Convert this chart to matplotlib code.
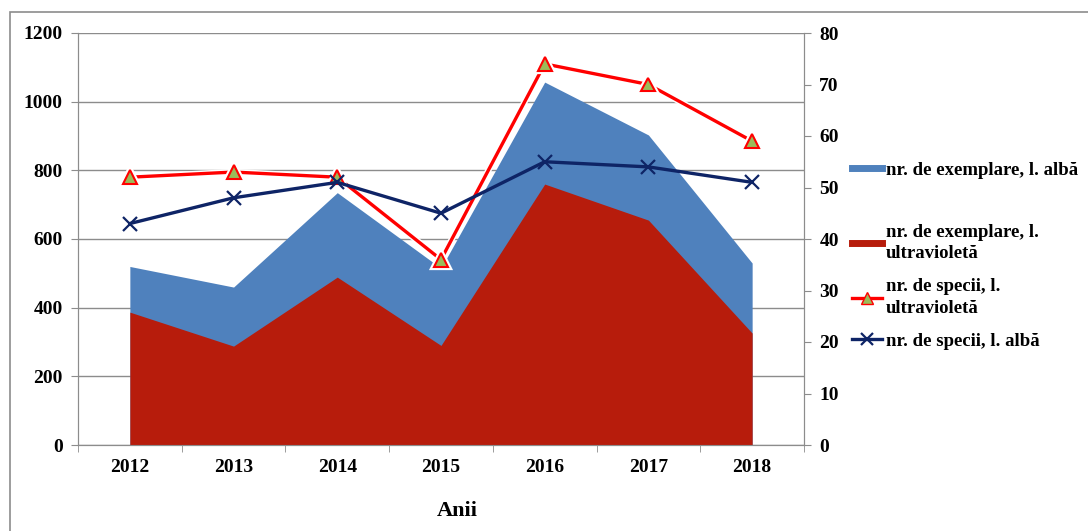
import numpy as np
import matplotlib.pyplot as plt
import matplotlib.patheffects as pe
from matplotlib.lines import Line2D
from matplotlib.patches import Rectangle

plt.rcParams['font.family'] = ['Liberation Serif', 'DejaVu Serif']
plt.rcParams['font.weight'] = 'bold'

years = ['2012', '2013', '2014', '2015', '2016', '2017', '2018']
ex_alba = [520, 460, 735, 515, 1057, 903, 530]
ex_uv = [387, 288, 489, 290, 760, 655, 326]
sp_uv = [52, 53, 52, 36, 74, 70, 59]
sp_alba = [43, 48, 51, 45, 55, 54, 51]

lbl_ex_alba = 'nr. de exemplare, l. albă'
lbl_ex_uv = 'nr. de exemplare, l.\nultravioletă'
lbl_sp_uv = 'nr. de specii, l.\nultravioletă'
lbl_sp_alba = 'nr. de specii, l. albă'

c_blue = '#4F81BD'
c_red = '#B71C0C'
c_line_red = '#FF0000'
c_navy = '#0E2466'
c_grid = '#8C8C8C'

fig = plt.figure(figsize=(10.88, 5.31), dpi=100)
ax = fig.add_axes([78/1088, 1 - 445/531, 726/1088, 412/531])
ax2 = ax.twinx()

x = np.arange(len(years))
ax.fill_between(x, ex_alba, color=c_blue, linewidth=0, zorder=2)
ax.fill_between(x, ex_uv, color=c_red, linewidth=0, zorder=3)

ax2.plot(x, sp_uv, color=c_line_red, lw=2.4, marker='^', ms=10,
         mfc='#9BBB59', mec=c_line_red, mew=1.5, zorder=3,
         path_effects=[pe.Stroke(linewidth=4.5, foreground='white'), pe.Normal()])
ax2.plot(x, sp_alba, color=c_navy, lw=2.4, marker='x', ms=10, mew=1.6, zorder=4)

ax.set_xlim(-0.5, 6.5)
ax.set_ylim(0, 1200)
ax2.set_ylim(0, 80)
ax.set_yticks(np.arange(0, 1201, 200))
ax2.set_yticks(np.arange(0, 81, 10))
ax.set_xticks(x)
ax.set_xticklabels(years)
ax.set_xticks(np.arange(-0.5, 7, 1), minor=True)

ax.yaxis.grid(True, color=c_grid, lw=1)
ax.set_axisbelow(True)

for a in (ax, ax2):
    a.spines['top'].set_visible(False)
    for s in ('left', 'right', 'bottom'):
        a.spines[s].set_color(c_grid)
ax.tick_params(axis='x', which='major', length=0, pad=10, labelsize=14)
ax.tick_params(axis='x', which='minor', length=5, color=c_grid, direction='out')
ax.tick_params(axis='y', length=5, color=c_grid, pad=6, labelsize=14)
ax2.tick_params(axis='y', length=5, color=c_grid, pad=6, labelsize=14)

ax.set_xlabel('Anii', fontsize=16, fontweight='bold')
ax.xaxis.set_label_coords(0.523, -0.135)

h1 = [Line2D([], [], color=c_blue, lw=5)]
h2 = [Line2D([], [], color=c_red, lw=5),
      Line2D([], [], color=c_line_red, lw=2.4, marker='^', ms=9, mfc='#9BBB59', mec=c_line_red),
      Line2D([], [], color=c_navy, lw=2.4, marker='x', ms=9, mew=1.6)]
leg_kw = dict(frameon=False, borderpad=0, borderaxespad=0, handlelength=1.6,
              handletextpad=0.2, prop={'size': 13.5, 'weight': 'bold'})
leg1 = fig.legend(h1, [lbl_ex_alba], loc='center left',
                  bbox_to_anchor=(852/1088, 1 - 170/531), **leg_kw)
leg2 = fig.legend(h2, [lbl_ex_uv, lbl_sp_uv, lbl_sp_alba], loc='center left',
                  bbox_to_anchor=(852/1088, 1 - 287/531), labelspacing=0.85, **leg_kw)
for t in leg2.get_texts():
    t.set_linespacing(1.35)

fig.patches.append(Rectangle((10/1088, -0.1), 1.2, 1.1 - 12/531, transform=fig.transFigure,
                             fill=False, edgecolor='#8C8C8C', lw=1.2))

fig.savefig('out.png', dpi=100)
